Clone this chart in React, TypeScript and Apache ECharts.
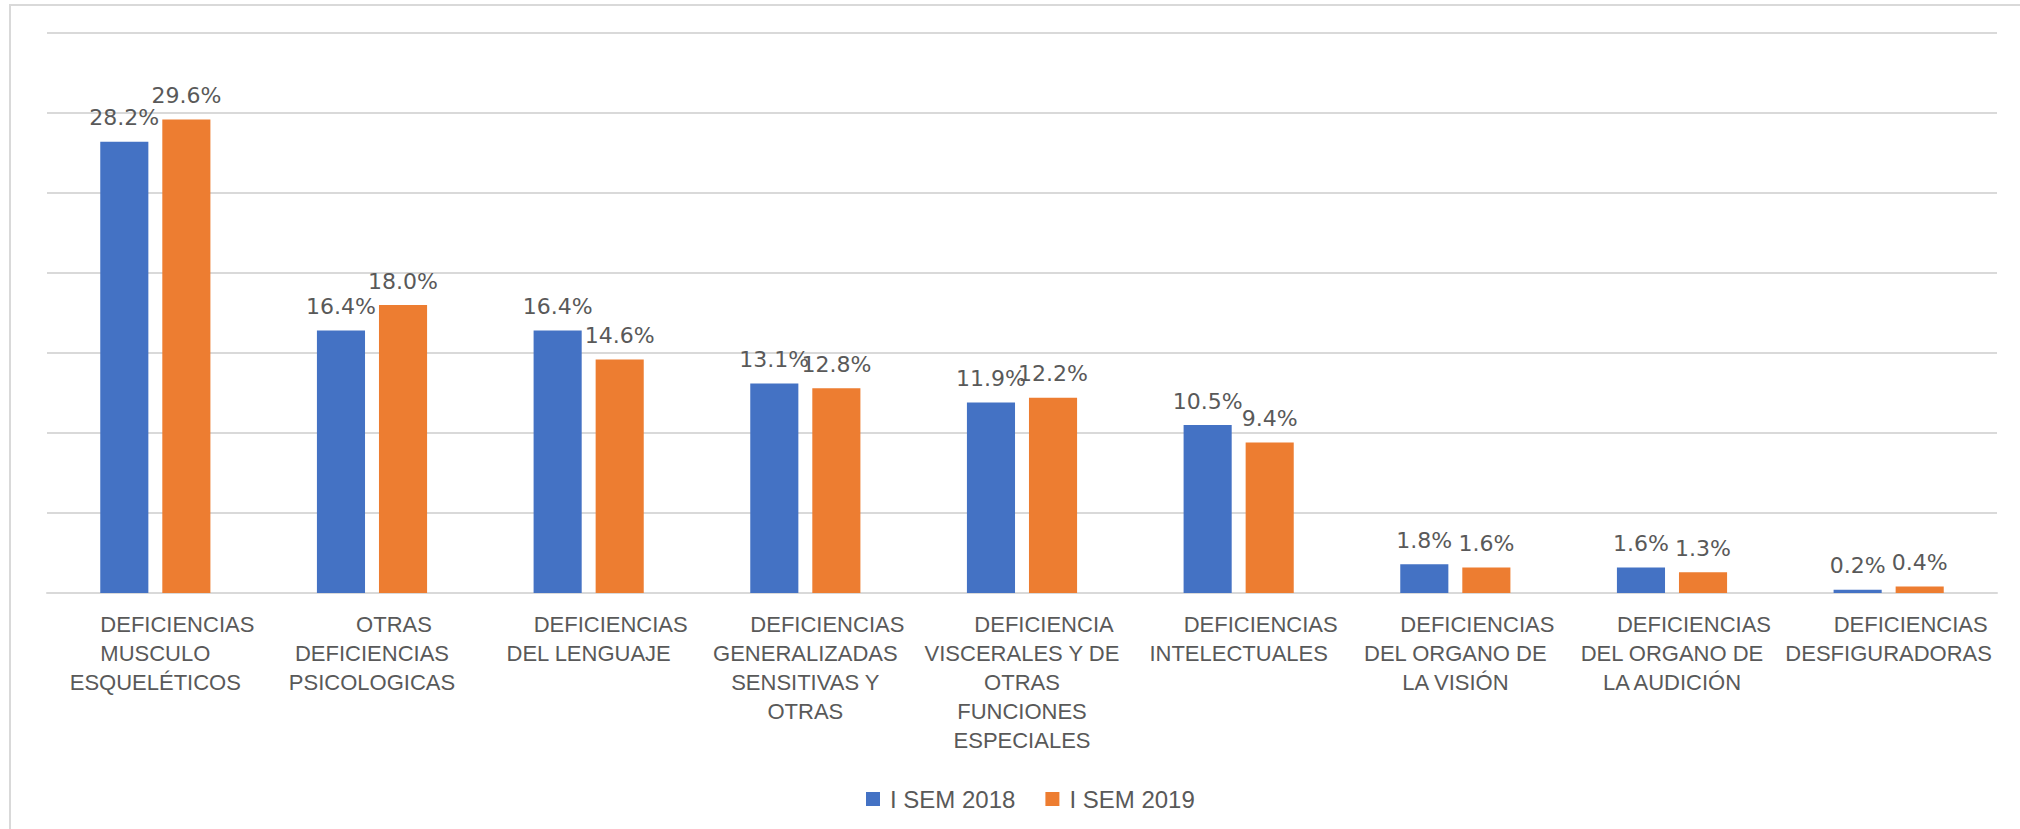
import React, { useEffect, useRef } from "react";
import * as echarts from "echarts";

const categories: string[] = [
  "DEFICIENCIAS\nMUSCULO\nESQUELÉTICOS",
  "OTRAS\nDEFICIENCIAS\nPSICOLOGICAS",
  "DEFICIENCIAS\nDEL LENGUAJE",
  "DEFICIENCIAS\nGENERALIZADAS\nSENSITIVAS Y\nOTRAS",
  "DEFICIENCIA\nVISCERALES Y DE\nOTRAS\nFUNCIONES\nESPECIALES",
  "DEFICIENCIAS\nINTELECTUALES",
  "DEFICIENCIAS\nDEL ORGANO DE\nLA VISIÓN",
  "DEFICIENCIAS\nDEL ORGANO DE\nLA AUDICIÓN",
  "DEFICIENCIAS\nDESFIGURADORAS",
];

const seriesNames: string[] = ["I SEM 2018", "I SEM 2019"];
const sem2018: number[] = [28.2, 16.4, 16.4, 13.1, 11.9, 10.5, 1.8, 1.6, 0.2];
const sem2019: number[] = [29.6, 18.0, 14.6, 12.8, 12.2, 9.4, 1.6, 1.3, 0.4];

const colors = ["#4472C4", "#ED7D31"];

export default function App() {
  const ref = useRef<HTMLDivElement>(null);

  useEffect(() => {
    if (!ref.current) return;
    const chart = echarts.init(ref.current, undefined, { renderer: "svg" });
    const labelStyle = {
      show: true,
      position: "top" as const,
      distance: 11,
      formatter: (p: any) => Number(p.value).toFixed(1) + "%",
      fontFamily: "DejaVu Sans",
      fontSize: 22,
      lineHeight: 26,
      color: "#595959",
    };
    chart.setOption({
      animation: false,
      backgroundColor: "#ffffff",
      graphic: [
        {
          type: "rect",
          shape: { x: 10, y: 5, width: 2100, height: 900 },
          style: { fill: "none", stroke: "#d9d9d9", lineWidth: 2 },
          silent: true,
        },
      ],
      grid: { left: 47, right: 23, top: 33, bottom: 236, containLabel: false },
      legend: {
        data: seriesNames,
        left: 861,
        top: 782,
        icon: "rect",
        itemWidth: 14,
        itemHeight: 14,
        itemGap: 30,
        textStyle: {
          fontFamily: "Liberation Sans",
          fontSize: 24,
          color: "#595959",
          padding: [0, 0, 0, 5],
        },
      },
      xAxis: {
        type: "category",
        data: categories,
        axisLine: { show: true, lineStyle: { color: "#d9d9d9", width: 2 } },
        axisTick: { show: false },
        axisLabel: {
          interval: 0,
          margin: 17,
          fontFamily: "Liberation Sans",
          fontSize: 22,
          lineHeight: 29,
          color: "#595959",
          align: "center",
          formatter: (v: string) => {
            const lines = v.split("\n");
            return ["{f|" + lines[0] + "}"].concat(lines.slice(1)).join("\n");
          },
          rich: {
            f: {
              fontFamily: "Liberation Sans",
              fontSize: 22,
              lineHeight: 29,
              color: "#595959",
              padding: [0, 0, 0, 44],
            },
          },
        },
      },
      yAxis: {
        type: "value",
        min: 0,
        max: 35,
        interval: 5,
        axisLabel: { show: false },
        axisLine: { show: false },
        axisTick: { show: false },
        splitLine: { show: true, lineStyle: { color: "#d9d9d9", width: 2 } },
      },
      series: [
        {
          name: seriesNames[0],
          type: "bar",
          data: sem2018,
          barWidth: "22.2%",
          barGap: "29%",
          itemStyle: { color: colors[0] },
          label: labelStyle,
        },
        {
          name: seriesNames[1],
          type: "bar",
          data: sem2019,
          barWidth: "22.2%",
          barGap: "29%",
          itemStyle: { color: colors[1] },
          label: labelStyle,
        },
      ],
    });
    return () => chart.dispose();
  }, []);

  return (
    <div
      ref={ref}
      style={{ position: "fixed", left: 0, top: 0, width: 2020, height: 829 }}
    />
  );
}
